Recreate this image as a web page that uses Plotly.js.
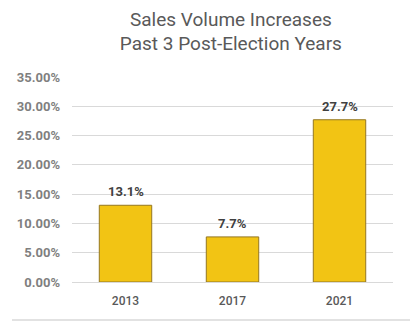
<!DOCTYPE html>
<html>
<head>
<meta charset="utf-8">
<script src="https://cdn.plot.ly/plotly-3.0.1.min.js"></script>
<style>html,body{margin:0;padding:0;background:#fff;}#chart{width:419px;height:322px;}</style>
</head>
<body>
<div id="chart"></div>
<script>
const years = ["2013", "2017", "2021"];
const increases = [0.131, 0.077, 0.277];
const yTickVals = [0, 0.05, 0.10, 0.15, 0.20, 0.25, 0.30, 0.35];
const yTickText = ["0.00%", "5.00%", "10.00%", "15.00%", "20.00%", "25.00%", "30.00%", "35.00%"];
const labels = increases.map(v => (v * 100).toFixed(1) + "%");

const trace = {
  type: "bar",
  x: years,
  y: increases,
  marker: {color: "#F2C414", line: {color: "#957720", width: 1}},
  hoverinfo: "skip"
};

const annotations = years.map((yr, i) => ({
  x: i, y: increases[i], xref: "x", yref: "y",
  text: labels[i], showarrow: false, yanchor: "bottom", yshift: 4,
  font: {family: "Roboto, sans-serif", size: 13, color: "#404040", weight: "bold"}
}));

const layout = {
  width: 419, height: 322,
  margin: {l: 72, r: 26, t: 77, b: 40},
  paper_bgcolor: "#ffffff", plot_bgcolor: "#ffffff",
  showlegend: false,
  bargap: 0.51,
  title: {
    text: "Sales Volume Increases<br>Past 3 Post-Election Years",
    font: {family: "Roboto, sans-serif", size: 19, color: "#595959"},
    x: 0.495, xanchor: "center", xref: "paper",
    y: 0.92, yanchor: "top", yref: "container"
  },
  xaxis: {
    type: "category",
    categoryorder: "array", categoryarray: years,
    range: [-0.5, 2.5],
    showgrid: false, zeroline: false, showline: false, ticks: "",
    tickfont: {family: "Roboto, sans-serif", size: 12, color: "#595959", weight: 500},
    ticklabelstandoff: 10
  },
  yaxis: {
    range: [0, 0.35],
    tickvals: yTickVals, ticktext: yTickText,
    showgrid: true, gridcolor: "#d9d9d9", gridwidth: 1,
    zeroline: true, zerolinecolor: "#d9d9d9", zerolinewidth: 1,
    showline: false, ticks: "",
    tickfont: {family: "Roboto, sans-serif", size: 13, color: "#7f7f7f", weight: "bold"},
    ticklabelstandoff: 11
  },
  annotations: annotations,
  shapes: [{
    type: "line", xref: "paper", yref: "paper",
    x0: -0.187, x1: 1.053, y0: -0.185, y1: -0.185,
    line: {color: "#d9d9d9", width: 1.5}
  }]
};

Plotly.newPlot("chart", [trace], layout, {displayModeBar: false, staticPlot: true});
</script>
</body>
</html>
